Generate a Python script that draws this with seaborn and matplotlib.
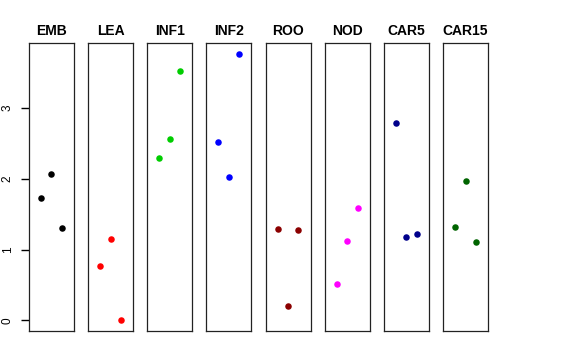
import matplotlib
matplotlib.use("Agg")
import matplotlib.pyplot as plt
import seaborn as sns
import pandas as pd

tissues = ["EMB", "LEA", "INF1", "INF2", "ROO", "NOD", "CAR5", "CAR15"]
colors = ["black", "red", "#00CD00", "blue", "#8B0000", "magenta", "#00008B", "#006400"]
replicate = [1, 2, 3]
values = {
    "EMB": [1.735, 2.07, 1.30],
    "LEA": [0.768, 1.15, 0.0],
    "INF1": [2.30, 2.56, 3.52],
    "INF2": [2.52, 2.03, 3.77],
    "ROO": [1.29, 0.20, 1.27],
    "NOD": [0.52, 1.12, 1.585],
    "CAR5": [2.79, 1.175, 1.225],
    "CAR15": [1.315, 1.97, 1.11],
}
yticks = [0, 1, 2, 3]

rows = []
for t in tissues:
    for r, v in zip(replicate, values[t]):
        rows.append({"tissue": t, "rep": r, "value": v})
df = pd.DataFrame(rows)

sns.set_theme(style="ticks")
plt.rcParams["font.family"] = ["Liberation Sans", "DejaVu Sans"]
plt.rcParams.update({
    "text.color": "black",
    "axes.labelcolor": "black",
    "xtick.color": "black",
    "ytick.color": "black",
})

fig, axes = plt.subplots(1, len(tissues), figsize=(5.76, 3.6), dpi=100)
fig.subplots_adjust(left=0.0503, right=0.8472, bottom=0.0806, top=0.8806, wspace=0.316)

# R-style 4% padding around the data range
ymin, ymax = 0.0, 3.77
pad = (ymax - ymin) * 0.04
for i, (ax, t, c) in enumerate(zip(axes, tissues, colors)):
    sns.scatterplot(data=df[df["tissue"] == t], x="rep", y="value", color=c,
                    s=22, linewidth=0, ax=ax)
    ax.set_xlim(-0.16, 4.16)
    ax.set_ylim(ymin - pad, ymax + pad)
    ax.set_xticks([])
    ax.set_xlabel("")
    ax.set_ylabel("")
    ax.set_title(t, fontweight="bold", fontsize=10, pad=6, color="black")
    for s in ax.spines.values():
        s.set_visible(True)
        s.set_color("#222222")
        s.set_linewidth(0.9)
    if i == 0:
        ax.set_yticks(yticks)
        ax.set_yticklabels([str(v) for v in yticks], rotation=90, va="center", fontsize=8.5)
        ax.tick_params(axis="y", left=True, direction="out", length=6,
                       width=1.0, pad=5, colors="black")
    else:
        ax.set_yticks([])

fig.savefig("out.png", dpi=100)
